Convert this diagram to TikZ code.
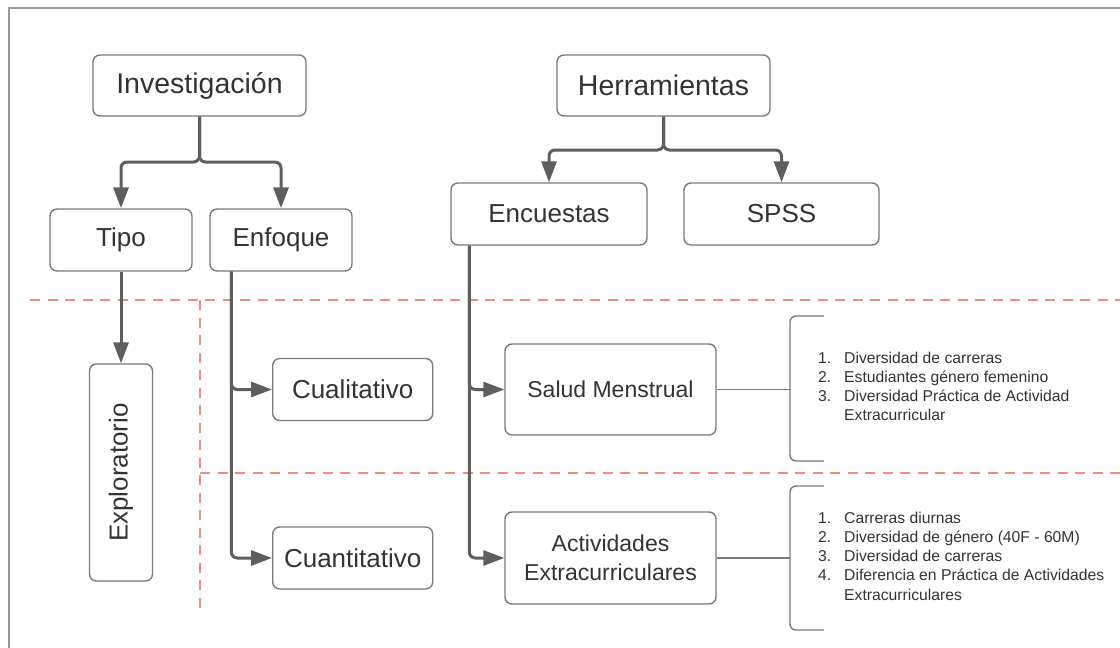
\documentclass[tikz,border=0pt]{standalone}
\usepackage{fontspec}
\setmainfont{Liberation Sans}
\usepackage{graphicx}
\usetikzlibrary{arrows.meta}
\definecolor{txtgray}{HTML}{333333}
\definecolor{boxgray}{HTML}{7A7A7A}
\definecolor{arrgray}{HTML}{5E5E5E}
\definecolor{cutred}{HTML}{F28A85}
\begin{document}
\begin{tikzpicture}[x=1pt,y=-1pt,
  box/.style={draw=boxgray, line width=1.4pt, rounded corners=7pt, text=txtgray, inner sep=0pt},
  topbox/.style={box, minimum width=213pt, minimum height=61pt, font=\fontsize{28.5}{34}\selectfont},
  midbox/.style={box, minimum height=62pt, font=\fontsize{26}{31}\selectfont},
  subbox/.style={box, minimum width=211pt, minimum height=91pt, align=center, font=\fontsize{23}{29}\selectfont},
  arr/.style={draw=arrgray, line width=3pt, rounded corners=6pt, -{Triangle[length=21pt,width=15pt]}},
  link/.style={draw=boxgray, line width=1.4pt},
  brk/.style={draw=boxgray, line width=1.4pt, rounded corners=6pt},
  cut/.style={draw=cutred, line width=2.4pt, dash pattern=on 10pt off 7.5pt},
  lst/.style={anchor=west, align=left, text=txtgray, inner sep=0pt, font=\fontsize{15.7}{19.2}\selectfont}]
\useasboundingbox (0,0) rectangle (1120,648);
\draw[draw=gray!80, line width=1.3pt] (1120,8) -- (9,8) -- (9,648);

% separators
\draw[cut] (30,300) -- (1120,300);
\draw[cut] (200,300) -- (200,612);
\draw[cut] (200,473) -- (1120,473);

% boxes
\node[topbox] (inv) at (199.5,85.5) {Investigación};
\node[topbox] (herr) at (663.5,85.5) {Herramientas};
\node[midbox, minimum width=142pt] (tipo) at (121,240) {Tipo};
\node[midbox, minimum width=142pt] (enf) at (281,240) {Enfoque};
\node[midbox, minimum width=196pt] (enc) at (549,214) {Encuestas};
\node[midbox, minimum width=195pt] (spss) at (781.5,214) {SPSS};
\node[midbox, minimum width=63pt, minimum height=217pt] (expl) at (121,472.5) {\rotatebox{90}{Exploratorio}};
\node[midbox, minimum width=160pt] (cual) at (352.7,389.5) {Cualitativo};
\node[midbox, minimum width=160pt] (cuant) at (352.7,558) {Cuantitativo};
\node[subbox] (salud) at (610.5,389.5) {Salud Menstrual};
\node[subbox, minimum height=92pt] (act) at (610.5,558) {Actividades\\Extracurriculares};

% arrows
\coordinate (invsplit) at (199.5,162);
\coordinate (herrsplit) at (663.5,150);
\draw[arr] (inv.south) -- (invsplit) -| (tipo.north);
\draw[arr] (inv.south) -- (invsplit) -| (enf.north);
\draw[arr] (herr.south) -- (herrsplit) -| (enc.north);
\draw[arr] (herr.south) -- (herrsplit) -| (spss.north);
\draw[arr] (tipo.south) -- (expl.north);
\draw[arr] ([xshift=22pt]enf.south west) |- (cual.west);
\draw[arr] ([xshift=22pt]enf.south west) |- (cuant.west);
\draw[arr] ([xshift=19pt]enc.south west) |- (salud.west);
\draw[arr] ([xshift=19pt]enc.south west) |- (act.west);

% brackets and lists
\coordinate (br1) at (790,389);
\coordinate (br2) at (790,557);
\draw[link] (salud.east) -- (salud.east -| br1);
\draw[link] (act.east) -- (act.east -| br2);
\draw[brk] (824,316) -- (790,316) -- (790,461) -- (824,461);
\draw[brk] (824,486) -- (790,486) -- (790,630) -- (824,630);
\node[lst] (lst1) at (818,386.4) {\makebox[26pt][l]{1.}Diversidad de carreras\\
  \makebox[26pt][l]{2.}Estudiantes género femenino\\
  \makebox[26pt][l]{3.}Diversidad Práctica de Actividad\\
  \hspace*{26pt}Extracurricular};
\node[lst] (lst2) at (818,556) {\makebox[26pt][l]{1.}Carreras diurnas\\
  \makebox[26pt][l]{2.}Diversidad de género (40F - 60M)\\
  \makebox[26pt][l]{3.}Diversidad de carreras\\
  \makebox[26pt][l]{4.}Diferencia en Práctica de Actividades\\
  \hspace*{26pt}Extracurriculares};
\end{tikzpicture}
\end{document}
